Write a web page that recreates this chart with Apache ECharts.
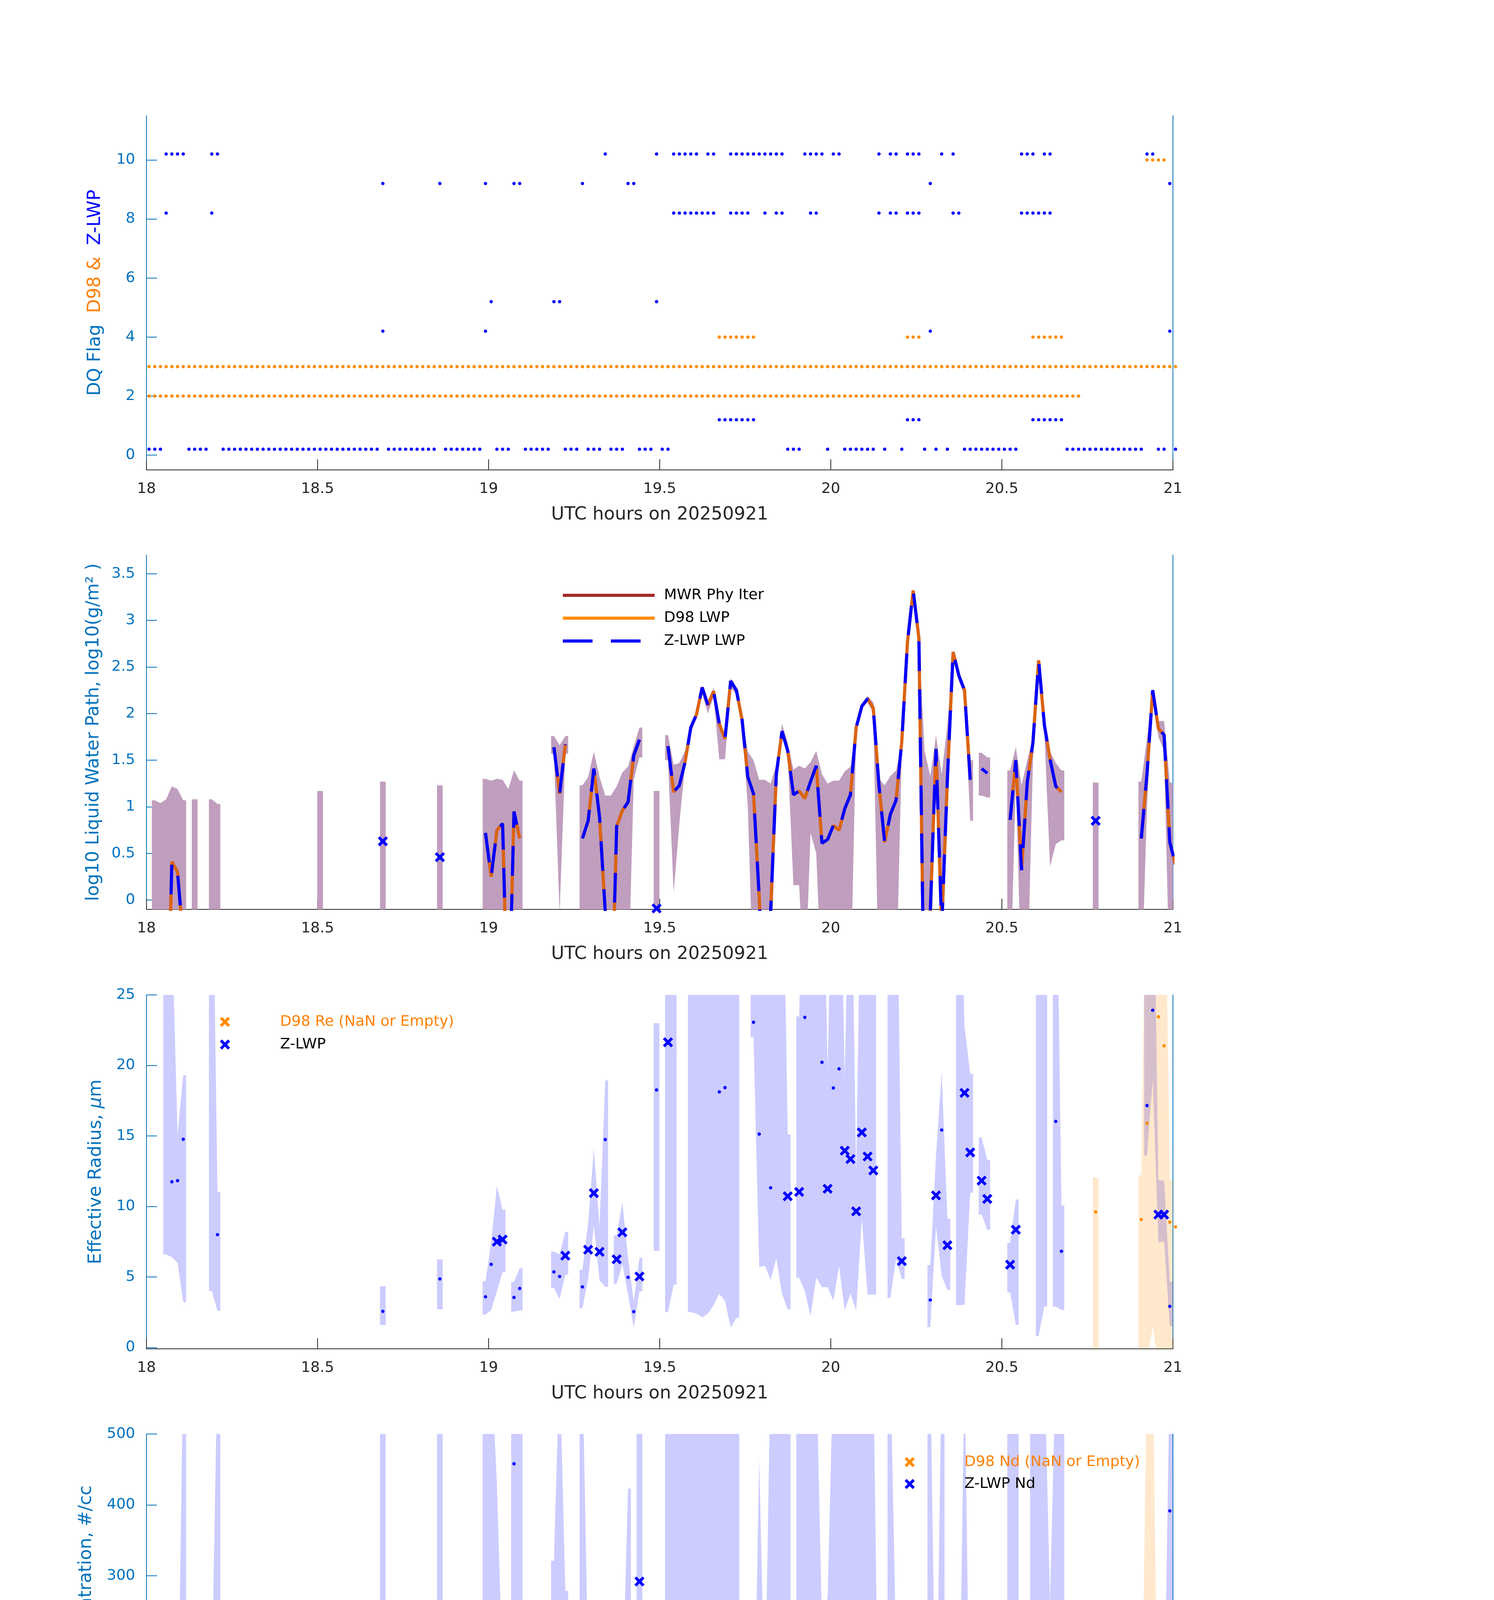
<!DOCTYPE html>
<html><head><meta charset="utf-8">
<script src="https://cdn.jsdelivr.net/npm/echarts@6/dist/echarts.min.js"></script>
<style>html,body{margin:0;padding:0;background:#fff}#c{width:3825px;height:6000px}</style>
</head><body><div id="c"></div>
<script>
// ---------- time base: one sample per minute from 18:00 UTC (minute index 0..180) ----------
const START_HOUR = 18;
const SAMPLE_OFFSET_MIN = 0.45;
const N_MIN = 181;
const xTicks = [18, 18.5, 19, 19.5, 20, 20.5, 21];

// ---------- Panel 1: DQ flags, runs of minute indices [first,last] ----------
const zFlag0 = [[0,2],[7,10],[13,40],[42,50],[52,58],[61,63],[66,70],[73,75],[77,79],[81,83],[86,88],[90,91],[112,114],[119,119],[122,127],[129,129],[132,132],[136,136],[138,138],[140,140],[143,152],[161,174],[177,178],[180,180]];
const zFlag1 = [[100,106],[133,135],[155,160]];
const zFlag4 = [[41,41],[59,59],[137,137],[179,179]];
const zFlag5 = [[60,60],[71,72],[89,89]];
const zFlag8 = [[3,3],[11,11],[92,99],[102,105],[108,108],[110,111],[116,117],[128,128],[130,131],[133,135],[141,142],[153,158]];
const zFlag9 = [[41,41],[51,51],[59,59],[64,65],[76,76],[84,85],[137,137],[179,179]];
const zFlag10 = [[3,6],[11,12],[80,80],[89,89],[92,96],[98,99],[102,111],[115,118],[120,121],[128,128],[130,131],[133,135],[139,139],[141,141],[153,155],[157,158],[175,176]];
const dFlag2 = [[0,163]];
const dFlag3 = [[0,180]];
const dFlag4 = [[100,106],[133,135],[155,160]];
const dFlag10 = [[175,178]];
const yTicksP1 = [0,2,4,6,8,10];

// ---------- Panel 2: log10 LWP [minute, value] and band [minute, lo, hi] ----------
const lwpZ = [[3,-2],[4,0.41],[5,0.30],[6,-0.45],
 [41,0.63],[51,0.46],
 [59,0.72],[60,0.25],[61,0.75],[62,0.82],[63,-1.5],[64,0.95],[65,0.66],
 [71,1.64],[72,1.14],[73,1.67],
 [76,0.66],[77,0.85],[78,1.41],[79,0.89],[80,-0.12],[81,-1.5],[82,0.79],[83,0.96],[84,1.05],[85,1.55],[86,1.72],
 [89,-0.09],
 [91,1.65],[92,1.16],[93,1.23],[94,1.48],[95,1.85],[96,1.99],[97,2.28],[98,2.09],[99,2.24],[100,1.89],[101,1.73],[102,2.35],[103,2.25],[104,1.93],[105,1.32],[106,1.14],[107,0.03],[108,-1.5],[109,-0.12],[110,1.35],[111,1.81],[112,1.6],[113,1.13],[114,1.17],[115,1.09],[116,1.27],[117,1.44],[118,0.61],[119,0.65],[120,0.80],[121,0.75],[122,0.98],[123,1.13],[124,1.85],[125,2.08],[126,2.16],[127,2.06],[128,1.23],[129,0.62],[130,0.92],[131,1.07],[132,1.70],[133,2.77],[134,3.32],[135,2.81],[136,-1.5],[137,-0.12],[138,1.62],[139,-0.3],[140,1.3],[141,2.66],[142,2.41],[143,2.25],[144,1.29],
 [146,1.41],[147,1.36],
 [151,0.86],[152,1.50],[153,0.32],[154,1.26],[155,1.69],[156,2.57],[157,1.88],[158,1.51],[159,1.22],[160,1.16],
 [166,0.85],
 [174,0.66],[175,1.35],[176,2.25],[177,1.84],[178,1.77],[179,0.62],[180,0.38]];
const lwpD98Missing = [146,147];
const lwpBand = [[1,-1,1.07],[2,-1,1.04],[3,-1,1.08],[4,-1,1.22],[5,-1,1.19],[6,-1,1.07],
 [8,-1,1.08],[11,-1,1.08],[12,-1,1.03],
 [30,-1,1.17],[41,-1,1.27],[51,-1,1.23],
 [59,-1,1.30],[60,-1,1.28],[61,-1,1.30],[62,-1,1.29],[63,-1,1.19],[64,-1,1.39],[65,-1,1.28],
 [71,1.57,1.76],[72,-0.15,1.66],[73,1.57,1.76],
 [76,-1,1.23],[77,-1,1.32],[78,-1,1.59],[79,-1,1.32],[80,-1,1.12],[81,-1,1.12],[82,-1,1.22],[83,-1,1.37],[84,-1,1.43],[85,1.29,1.65],[86,1.53,1.85],
 [89,-1,1.17],
 [91,1.50,1.77],[92,0.08,1.45],[93,0.82,1.47],[94,1.45,1.6],[95,1.8,1.87],[96,1.95,2.02],[97,2.22,2.30],[98,2.0,2.08],[99,2.18,2.28],[100,1.51,1.97],[101,1.51,1.72],[102,2.28,2.38],[103,2.2,2.27],[104,1.88,1.96],[105,1.0,1.59],[106,-1,1.5],[107,-1,1.29],[108,-1,1.29],[109,-1,1.25],[110,1.3,1.45],[111,1.75,1.89],[112,1.55,1.69],[113,0.16,1.40],[114,0.16,1.44],[115,-1,1.41],[116,0.72,1.48],[117,0.5,1.6],[118,-1,1.35],[119,-1,1.25],[120,-1,1.28],[121,-1,1.28],[122,-1,1.38],[123,-1,1.43],[124,1.8,1.85],[125,2.05,2.09],[126,2.12,2.19],[127,2.0,2.12],[128,-1,1.3],[129,-1,1.23],[130,-1,1.33],[131,-1,1.39],[132,1.6,1.68],[133,2.7,2.76],[134,3.25,3.33],[135,2.75,2.82],[136,-1,1.6],[137,-1,1.33],[138,1.5,1.76],[139,-1,1.35],[140,1.2,1.88],[141,2.6,2.68],[142,2.35,2.42],[143,2.2,2.26],[144,0.85,1.5],
 [146,1.12,1.58],[147,1.10,1.53],
 [151,-1,1.39],[152,1.3,1.64],[153,-1,1.23],[154,-1,1.5],[155,1.5,1.74],[156,2.4,2.59],[157,1.8,1.91],[158,0.36,1.59],[159,0.6,1.47],[160,0.64,1.39],
 [166,-1,1.26],
 [174,-1,1.27],[175,1.0,1.73],[176,2.2,2.27],[177,1.75,1.92],[178,1.6,1.92],[179,-1,1.27],[180,-1,1.22]];
const yTicksP2 = [0,0.5,1,1.5,2,2.5,3,3.5];

// minutes flagged as good retrievals (drawn as x markers in panels 3-5)
const goodMinutes = [61,62,73,77,78,79,82,83,86,91,112,114,119,122,123,124,125,126,127,132,138,140,143,144,146,147,151,152,177,178];

// ---------- Panel 3: effective radius (um) ----------
const reZ = [[4,11.75],[5,11.83],[6,14.76],[12,8.0],[41,2.56],[51,4.86],[59,3.59],[60,5.89],[61,7.5],[62,7.65],[64,3.54],[65,4.18],[71,5.36],[72,5.03],[73,6.51],[76,4.29],[77,6.93],[78,10.94],[79,6.78],[80,14.74],[82,6.25],[83,8.16],[84,4.97],[85,2.54],[86,5.03],[89,18.26],[91,21.64],[100,18.12],[101,18.43],[106,23.06],[107,15.13],[109,11.32],[112,10.72],[114,11.03],[115,23.41],[118,20.22],[119,11.25],[120,18.40],[121,19.76],[122,13.95],[123,13.36],[124,9.65],[125,15.25],[126,13.54],[127,12.55],[132,6.12],[137,3.36],[138,10.78],[139,15.42],[140,7.25],[143,18.05],[144,13.83],[146,11.83],[147,10.53],[151,5.87],[152,8.35],[159,16.03],[160,6.82],[175,17.15],[176,23.91],[177,9.42],[178,9.42],[179,2.91]];
const reD98 = [[166,9.62],[174,9.07],[175,15.9],[177,23.45],[178,21.39],[179,8.88],[180,8.55]];
const reBandZ = [[3,6.6,40],[4,6.4,30],[5,6.0,15.1],[6,3.2,19.3],
 [11,4.0,40],[12,2.6,11.0],
 [41,1.59,4.33],[51,2.7,6.24],
 [59,2.33,4.70],[60,2.66,7.48],[61,3.98,11.44],[62,5.34,9.77],
 [64,2.53,4.64],[65,2.62,5.63],
 [71,4.23,6.80],[72,3.44,6.60],[73,5.15,8.20],
 [76,2.78,5.50],[77,4.86,8.80],[78,8.64,14.12],[79,4.76,8.6],[80,4.29,18.94],
 [82,4.49,7.94],[83,5.92,10.3],[84,3.75,6.37],[85,1.40,3.26],[86,3.98,6.37],
 [89,6.84,23.0],
 [91,2.5,40],[92,4.45,40],
 [95,2.5,40],[96,2.4,40],[97,2.14,40],[98,2.4,40],[99,3.0,40],[100,3.8,40],[101,3.3,40],[102,1.4,40],[103,2.1,40],
 [106,22,40],[107,5.7,40],[108,5.8,40],[109,4.8,40],[110,6.3,40],[111,3.8,40],[112,2.7,15.1],
 [114,4.95,23.47],[115,3.98,40],[116,2.23,40],[117,4.95,40],[118,4.27,40],[119,4.27,19.7],[120,3.3,40],[121,5.73,40],[122,2.62,19.1],[123,3.83,40],[124,2.62,12.3],[125,9.13,40],[126,3.75,40],[127,3.75,40],
 [130,3.5,40],[131,6.3,40],[132,4.86,7.73],
 [137,1.44,5.83],[138,8.55,13.58],[139,5.05,19.54],[140,4.08,9.13],
 [142,3.0,40],[143,3.0,22.77],[144,10.97,19.4],
 [146,9.42,14.9],[147,8.35,13.3],
 [151,3.89,7.4],[152,1.6,10.5],
 [156,0.8,40],[157,2.9,40],
 [159,2.9,40],[160,2.66,10.06],
 [175,13.6,40],[176,19.0,40],[177,7.48,11.85],[178,7.48,11.85],[179,1.5,4.66]];
const reBandD98 = [[166,-1,12.04],[174,-1,12.2],[175,-1,40],[176,1.45,40],[177,-1,40],[178,-1,40],[179,-1,11.9],[180,-1,11.8]];
const yTicksP3 = [0,5,10,15,20,25];

// ---------- Panel 4: droplet concentration (#/cc) ----------
const ndZ = [[3,1],[4,1],[5,1],[6,0.5],[11,0.5],[12,2.3],[51,58],[59,258.5],[60,14.7],[61,31.7],[62,16.6],[64,458],[65,113],[71,155.6],[72,55.7],[73,139],[76,132],[77,20],[78,10],[79,22.4],[80,0.3],[82,29.8],[83,18.6],[84,76],[86,291.8],[89,0.3],[91,7],[92,0.5],[93,0.3],[94,0.3],[95,0.4],[96,0.5],[97,9.3],[98,0.3],[99,0.4],[100,28.3],[101,16.3],[102,0.3],[103,0.3],[104,0.4],[105,0.8],[106,2.3],[107,1.5],[108,0.3],[109,3.9],[110,0.3],[111,0.4],[112,58.8],[114,29.4],[115,0.8],[116,0.6],[117,0.7],[118,0.8],[119,9.3],[120,2],[121,1.5],[122,6.2],[123,7],[124,109],[125,39],[126,189.6],[127,52.6],[128,0.8],[130,0.3],[131,0.4],[132,111],[133,0.3],[134,0.3],[135,0.4],[137,118.4],[138,17.4],[139,0.3],[140,159.4],[141,2.3],[142,5.8],[143,14.7],[144,7],[146,7],[147,14],[151,56.5],[152,27],[153,0.3],[154,0.4],[155,0.3],[156,32.5],[157,0.3],[158,0.4],[159,6.6],[160,76],[175,2],[176,2.7],[177,25.5],[178,40.2],[179,391.6]];
const ndD98 = [[166,17.8],[174,14],[176,0.3],[177,1.5],[178,3.5],[179,12.4],[180,7.7]];
const ndBandZ = [[3,-1,51],[4,-1,34],[5,-1,36],[6,-1,600],
 [11,-1,153],[12,-1,600],
 [41,94.4,600],[51,20,600],
 [59,80,600],[60,6.6,600],[61,7.7,430],[62,9.3,160],
 [64,173,600],[65,41,600],
 [71,75,321],[72,24.8,600],[73,68.5,278.6],
 [76,48,600],[77,10.4,172],[78,2.7,105],[79,10.4,194],[80,8.5,235],
 [82,14.3,216.7],[83,9.7,134],[84,36.4,423],
 [86,123.5,600],
 [89,-1,41.8],
 [91,-1,600],[92,-1,600],[93,-1,600],[94,-1,600],[95,-1,600],[96,-1,600],[97,-1,600],[98,-1,600],[99,-1,600],[100,-1,600],[101,-1,600],[102,-1,600],[103,-1,600],
 [106,-1,20],[107,-1,466],[108,-1,111],[109,-1,600],[110,-1,600],[111,-1,600],[112,16,600],
 [114,-1,600],[115,-1,600],[116,-1,600],[117,-1,600],[118,-1,233],[119,-1,270],[120,-1,600],[121,-1,600],[122,-1,600],[123,-1,600],[124,55,600],[125,20,600],[126,4.6,600],[127,4,600],[128,-1,4],
 [130,-1,600],[131,-1,196],[132,53,225],
 [137,16,600],[138,4.6,37.5],[139,79,600],
 [141,-1,2],[142,-1,18],[143,10,600],[144,-1,18],
 [146,-1,12],[147,-1,29],
 [151,28.6,600],[152,8.5,600],
 [155,-1,600],[156,-1,600],[157,-1,600],[158,-1,264],[159,6.6,600],[160,6.6,600],
 [175,-1,6.6],[176,-1,6.6],[177,6.6,51],[178,6.6,82],[179,68.5,600]];
const ndBandD98 = [[166,-5,23],[174,-5,23],[175,-5,600],[176,-5,600],[177,-5,12],[178,-5,22],[179,-5,23],[180,-5,23]];
const yTicksP4 = [0,100,200,300,400,500];

// ---------- Panel 5: optical depth ----------
const odZ = [[3,0.05],[4,0.37],[5,0.28],[6,0.05],[11,0.05],[12,0.12],[41,2.55],[51,0.93],[59,2.23],[60,0.49],[61,1.16],[62,1.32],[64,3.83],[65,1.72],[71,12.55],[72,4.29],[73,11.0],[76,1.6],[77,1.58],[78,3.55],[79,1.74],[80,0.07],[82,1.53],[83,1.65],[84,3.48],[85,19.97],[86,15.8],[89,0.09],[91,3.46],[92,0.37],[93,0.19],[94,0.32],[95,0.93],[96,2.62],[97,9.16],[98,3.25],[99,3.0],[100,6.73],[101,4.24],[102,5.64],[103,3.9],[104,2.6],[105,0.74],[106,0.95],[107,0.14],[108,0.05],[109,0.19],[110,0.44],[111,1.53],[112,5.52],[114,2.04],[115,0.86],[116,0.37],[117,0.88],[118,0.35],[119,0.67],[120,0.58],[121,0.46],[122,1.02],[123,1.53],[124,11.67],[125,12.22],[126,16.67],[127,14.05],[128,0.58],[130,0.39],[131,0.37],[132,12.43],[133,3.06],[134,28.46],[135,12.6],[137,0.81],[138,5.77],[139,0.12],[140,15.68],[141,20.48],[142,14.17],[143,15.33],[144,2.11],[146,3.34],[147,3.34],[151,1.88],[152,5.66],[153,0.05],[154,0.3],[155,1.04],[156,15.12],[157,0.95],[158,0.35],[159,1.6],[160,3.2],[175,3.27],[176,11.18],[177,11.27],[178,9.79],[179,2.0]];
const odD98 = [[166,1.11],[174,0.79],[175,3.39],[176,5.64],[177,4.48],[178,4.27],[179,0.65],[180,0.42]];
const odBandZ = [[3,-1,2.83],[4,-1,4.0],[5,-1,4.0],[6,-1,5.6],
 [11,-1,4.64],[12,-1,6.6],
 [41,1.53,17.93],[51,0.74,9.67],
 [59,1.76,13.08],[60,0.39,11.0],[61,1.44,6.26],[62,1.2,5.6],
 [64,2.95,15.1],[65,1.25,11.18],
 [71,7.7,17.9],[72,3.3,20.2],[73,8.0,14.26],
 [76,1.32,9.37],[77,1.32,6.5],[78,1.39,6.3],[79,1.55,7.28],[80,-1,4.87],
 [82,1.32,5.57],[83,2.78,6.0],[84,2.7,10.76],[85,10.1,35],[86,8.9,23.6],
 [89,-1,3.48],
 [91,2.13,27.76],[92,-1,4.87],[93,0.05,6.5],[94,-1,0.74],[95,1.67,35],[96,2.83,35],[97,2.95,35],[98,1.55,35],[99,2.37,35],[100,1.44,35],[101,0.97,23.5],[102,4.57,35],[103,3.5,35],[104,3.4,35],[105,0.3,1.8],[106,0.28,2.7],[107,0.28,5.1],[108,0.05,5.26],[109,0.16,5.38],[110,0.5,5.57],[111,1.1,26.4],[112,3.3,21.4],
 [114,0.14,4.8],[115,0.5,4.73],[116,0.16,11.5],[117,0.28,8.16],[118,0.28,3.06],[119,0.28,3.76],[120,0.28,2.83],[121,0.28,2.13],[122,1.2,5.2],[123,0.16,5.2],[124,9.3,35],[125,8.4,21],[126,6.35,35],[127,6.35,35],[128,0.2,1.62],
 [130,-1,3.6],[131,-1,2.7],[132,7.58,17.9],[133,2.48,3.85],[134,20.8,35],[135,8.2,15.8],
 [137,0.51,24.84],[138,2.48,9.7],[139,-1,6.33],[140,12.4,28.2],[141,16.35,25.8],[142,11.6,17.8],[143,12.2,35],[144,0.58,4.1],
 [146,1.39,5.66],[147,1.48,5.5],
 [151,2.27,9.76],[152,2.37,29.4],[153,-1,0.39],[154,-1,0.51],[155,-1,10],[156,3.5,35],[157,0.2,35],[158,-1,0.5],[159,0.28,8.44],[160,0.7,8.05],
 [175,0.39,7.05],[176,8.9,14.0],[177,8.16,14.66],[178,5.38,15.03],[179,0.58,16.0]];
const odBandD98 = [[166,-1,2.27],[174,-1,2.32],[175,-1,3.4],[176,-1,35],[177,-1,4.73],[178,-1,4.73],[179,-1,3.48],[180,-1,3.48]];
const yTicksP5 = [0,5,10,15,20,25];

// ---------- styling ----------
const FONT = 'DejaVu Sans';
const AX_BLUE = '#0072bd';
const DARK = '#262626';
const BLUE = '#0000ff';
const ORANGE = '#ff8c00';
const ORANGE_TXT = '#ff8000';
const BROWN = '#a52a2a';
const CROSS = 'path://M4,0L10,6L16,0L20,4L14,10L20,16L16,20L10,14L4,20L0,16L6,10L0,4Z';

function tOf(m){ return START_HOUR + (m + SAMPLE_OFFSET_MIN) / 60; }
function expandRuns(runs){ const out=[]; runs.forEach(r=>{ for(let m=r[0]; m<=r[1]; m++) out.push(m); }); return out; }
function lineData(pairs, skip){
  const arr = new Array(N_MIN).fill(null);
  pairs.forEach(p=>{ if(!skip || skip.indexOf(p[0])<0) arr[p[0]] = p[1]; });
  return arr.map((v,m)=>[tOf(m), v==null?'-':v]);
}
function isolatedPoints(pairs){
  const arr = new Array(N_MIN).fill(null);
  pairs.forEach(p=>arr[p[0]]=p[1]);
  return pairs.filter(p=>(p[0]==0||arr[p[0]-1]==null)&&(p[0]==N_MIN-1||arr[p[0]+1]==null)).map(p=>[tOf(p[0]),p[1]]);
}
function bandSeries(rows, color, axis, z){
  const lo = new Array(N_MIN+1).fill(null), hi = new Array(N_MIN+1).fill(null);
  rows.forEach(r=>{ lo[r[0]]=r[1]; hi[r[0]]=r[2]; });
  const starts = rows.filter(r=>r[0]==0||hi[r[0]-1]==null).map(r=>r[0]);
  return {
    type:'custom', xAxisIndex:axis, yAxisIndex:axis, clip:true, silent:true, z:z,
    data: starts.map(m=>[tOf(m), m]), encode:{x:0, y:1},
    renderItem: function(params, api){
      const m0 = api.value(1);
      let m1 = m0; while(m1+1<N_MIN && hi[m1+1]!=null) m1++;
      const h = 0.5/60, top=[], bot=[];
      top.push(api.coord([tOf(m0)-h, hi[m0]])); bot.push(api.coord([tOf(m0)-h, lo[m0]]));
      for(let m=m0;m<=m1;m++){ top.push(api.coord([tOf(m), hi[m]])); bot.push(api.coord([tOf(m), lo[m]])); }
      top.push(api.coord([tOf(m1)+h, hi[m1]])); bot.push(api.coord([tOf(m1)+h, lo[m1]]));
      return {type:'polygon', shape:{points: top.concat(bot.reverse())}, style:{fill:color}};
    }
  };
}
function scatter(name, pts, axis, symbol, size, color, z){
  return {type:'scatter', name:name, xAxisIndex:axis, yAxisIndex:axis, data:pts, symbol:symbol, symbolSize:size,
    itemStyle:{color:color, opacity:1}, clip:false, silent:true, z:z};
}
function split(pairs){
  const good=[], other=[];
  pairs.forEach(p=>{ (goodMinutes.indexOf(p[0])>=0?good:other).push([tOf(p[0]),p[1]]); });
  return {good, other};
}

// ---------- axes ----------
const gridsPos = [
  {top:296, height:907}, {top:1421, height:907}, {top:2547, height:906}, {top:3671, height:907}, {top:4795, height:908}
];
const yRanges = [[-0.5,11.5],[-0.1,3.7],[-0.1,25],[0,500],[-0.1,29.9]];
const yTicks = [yTicksP1, yTicksP2, yTicksP3, yTicksP4, yTicksP5];
const yNameGap = [108, 112, 106, 131, 106];
const yNames = [
  '{a|DQ Flag}  {b|D98 &}  {c|Z-LWP}',
  'log10 Liquid Water Path, log10(g/m² )',
  '{n|Effective Radius, }{i|μ}{n|m}',
  'Droplet Concentration, #/cc',
  'Optical Depth'
];

const grid = gridsPos.map(g=>({left:375, width:2628, top:g.top, height:g.height}));
const xAxis = gridsPos.map((g,i)=>({
  type:'value', gridIndex:i, min:18, max:21, interval:0.5,
  name:'UTC hours on 20250921', nameLocation:'middle', nameGap:92,
  nameTextStyle:{fontFamily:FONT, fontSize:46, color:DARK},
  axisLine:{show:true, onZero:false, lineStyle:{color:DARK, width:2}},
  axisTick:{show:true, inside:true, length:27, lineStyle:{color:DARK, width:2}},
  axisLabel:{fontFamily:FONT, fontSize:38, color:DARK, margin:30, showMinLabel:true, showMaxLabel:true},
  splitLine:{show:false}
}));
const yAxis = [];
gridsPos.forEach((g,i)=>{
  yAxis.push({
    type:'value', gridIndex:i, position:'left', min:yRanges[i][0], max:yRanges[i][1],
    name:yNames[i], nameLocation:'middle', nameGap:yNameGap[i], nameRotate:90,
    nameTextStyle:{fontFamily:FONT, fontSize:46, color:AX_BLUE,
      rich:{a:{fontFamily:FONT,fontSize:46,color:AX_BLUE}, b:{fontFamily:FONT,fontSize:46,color:ORANGE_TXT}, c:{fontFamily:FONT,fontSize:46,color:BLUE},
            n:{fontFamily:FONT,fontSize:46,color:AX_BLUE}, i:{fontFamily:FONT,fontSize:46,color:AX_BLUE,fontStyle:'italic'}}},
    axisLine:{show:true, onZero:false, lineStyle:{color:AX_BLUE, width:2}},
    axisTick:{show:true, inside:true, length:27, customValues:yTicks[i], lineStyle:{color:AX_BLUE, width:2}},
    axisLabel:{fontFamily:FONT, fontSize:38, color:AX_BLUE, margin:29, customValues:yTicks[i]},
    splitLine:{show:false}
  });
});
gridsPos.forEach((g,i)=>{
  yAxis.push({
    type:'value', gridIndex:i, position:'right', min:yRanges[i][0], max:yRanges[i][1],
    axisLine:{show:true, onZero:false, lineStyle:{color:AX_BLUE, width:2}},
    axisTick:{show:false}, axisLabel:{show:false}, splitLine:{show:false}
  });
});

// ---------- series ----------
const series = [];
// Panel 1
const zFlagSets = [[zFlag0,0],[zFlag1,1],[zFlag4,4],[zFlag5,5],[zFlag8,8],[zFlag9,9],[zFlag10,10]];
const dFlagSets = [[dFlag2,2],[dFlag3,3],[dFlag4,4],[dFlag10,10]];
const Z_FLAG_SHIFT = 0.2;
const dPts = []; dFlagSets.forEach(s=>expandRuns(s[0]).forEach(m=>dPts.push([tOf(m), s[1]])));
const zPts = []; zFlagSets.forEach(s=>expandRuns(s[0]).forEach(m=>zPts.push([tOf(m), s[1]+Z_FLAG_SHIFT])));
series.push(scatter('D98 flag', dPts, 0, 'circle', 8.5, ORANGE, 5));
series.push(scatter('Z-LWP flag', zPts, 0, 'circle', 8.5, BLUE, 6));

// Panel 2
series.push(bandSeries(lwpBand, '#c09ebe', 1, 1));
series.push({type:'line', name:'MWR Phy Iter', xAxisIndex:1, yAxisIndex:1, data:lineData(lwpZ, lwpD98Missing), symbol:'none', showSymbol:false,
  connectNulls:false, clip:true, lineStyle:{color:BROWN, width:8}, itemStyle:{color:BROWN}, z:2, silent:true});
series.push({type:'line', name:'D98 LWP', xAxisIndex:1, yAxisIndex:1, data:lineData(lwpZ, lwpD98Missing), symbol:'none', showSymbol:false,
  connectNulls:false, clip:true, lineStyle:{color:ORANGE, width:8, opacity:0.6}, itemStyle:{color:ORANGE}, z:3, silent:true});
series.push({type:'line', name:'Z-LWP LWP', xAxisIndex:1, yAxisIndex:1, data:lineData(lwpZ), symbol:'none', showSymbol:false,
  connectNulls:false, clip:true, lineStyle:{color:BLUE, width:8, type:[76,47]}, itemStyle:{color:BLUE}, z:4, silent:true});
series.push(scatter('Z-LWP LWP isolated', isolatedPoints(lwpZ), 1, CROSS, 26, BLUE, 5));

// Panels 3-5
const p345 = [
  {axis:2, z:reZ, d:reD98, bz:reBandZ, bd:reBandD98, zname:'Z-LWP', dname:'D98 Re (NaN or Empty)'},
  {axis:3, z:ndZ, d:ndD98, bz:ndBandZ, bd:ndBandD98, zname:'Z-LWP Nd', dname:'D98 Nd (NaN or Empty)'},
  {axis:4, z:odZ, d:odD98, bz:odBandZ, bd:odBandD98, zname:'Z-LWP Nd', dname:'D98 OD (NaN or Empty)'}
];
p345.forEach(p=>{
  series.push(bandSeries(p.bz, 'rgba(0,0,255,0.2)', p.axis, 1));
  series.push(bandSeries(p.bd, 'rgba(255,140,0,0.2)', p.axis, 1));
  const s = split(p.z);
  series.push(scatter(p.zname+' pts', s.other, p.axis, 'circle', 8.5, BLUE, 5));
  series.push(scatter(p.zname, s.good, p.axis, CROSS, 26, BLUE, 6));
  series.push(scatter(p.dname+' pts', p.d.map(q=>[tOf(q[0]),q[1]]), p.axis, 'circle', 8.5, ORANGE, 5));
  series.push(scatter(p.dname, [], p.axis, CROSS, 26, ORANGE, 6));
});

// ---------- legends ----------
const legTxt = {fontFamily:FONT, fontSize:38, color:'#000', lineHeight:38};
const noSym = {opacity:0, borderWidth:0};
const legend = [
  {orient:'vertical', left:1432, top:1500, itemWidth:235, itemHeight:14, itemGap:20.5, selectedMode:false,
   textStyle:Object.assign({}, legTxt, {padding:[0,0,0,19]}),
   data:[
     {name:'MWR Phy Iter', itemStyle:noSym, lineStyle:{color:BROWN, width:8, opacity:1, type:'solid'}},
     {name:'D98 LWP', itemStyle:noSym, lineStyle:{color:ORANGE, width:8, opacity:1, type:'solid'}},
     {name:'Z-LWP LWP', itemStyle:noSym, lineStyle:{color:BLUE, width:8, opacity:1, type:[76,47]}}
   ]},
  {orient:'vertical', left:558, top:2592, itemWidth:26, itemHeight:26, itemGap:20, selectedMode:false,
   textStyle:Object.assign({}, legTxt, {padding:[0,0,0,123]}),
   data:[{name:'D98 Re (NaN or Empty)', icon:CROSS, textStyle:{color:ORANGE_TXT}}, {name:'Z-LWP', icon:CROSS, textStyle:{color:'#000'}}]},
  {orient:'vertical', left:2311, top:3719, itemWidth:26, itemHeight:26, itemGap:18, selectedMode:false,
   textStyle:Object.assign({}, legTxt, {padding:[0,0,0,122]}),
   data:[{name:'D98 Nd (NaN or Empty)', icon:CROSS, textStyle:{color:ORANGE_TXT}}, {name:'Z-LWP Nd', icon:CROSS, textStyle:{color:'#000'}}]},
  {orient:'vertical', left:768, top:4843, itemWidth:26, itemHeight:26, itemGap:19, selectedMode:false,
   textStyle:Object.assign({}, legTxt, {padding:[0,0,0,124]}),
   data:[{name:'D98 OD (NaN or Empty)', icon:CROSS, textStyle:{color:ORANGE_TXT}}, {name:'Z-LWP Nd', icon:CROSS, textStyle:{color:'#000'}}]}
];

const chart = echarts.init(document.getElementById('c'), null, {renderer:'canvas', devicePixelRatio:1});
chart.setOption({
  animation:false, backgroundColor:'#ffffff',
  textStyle:{fontFamily:FONT},
  grid:grid, xAxis:xAxis, yAxis:yAxis, legend:legend, series:series
});
</script></body></html>
